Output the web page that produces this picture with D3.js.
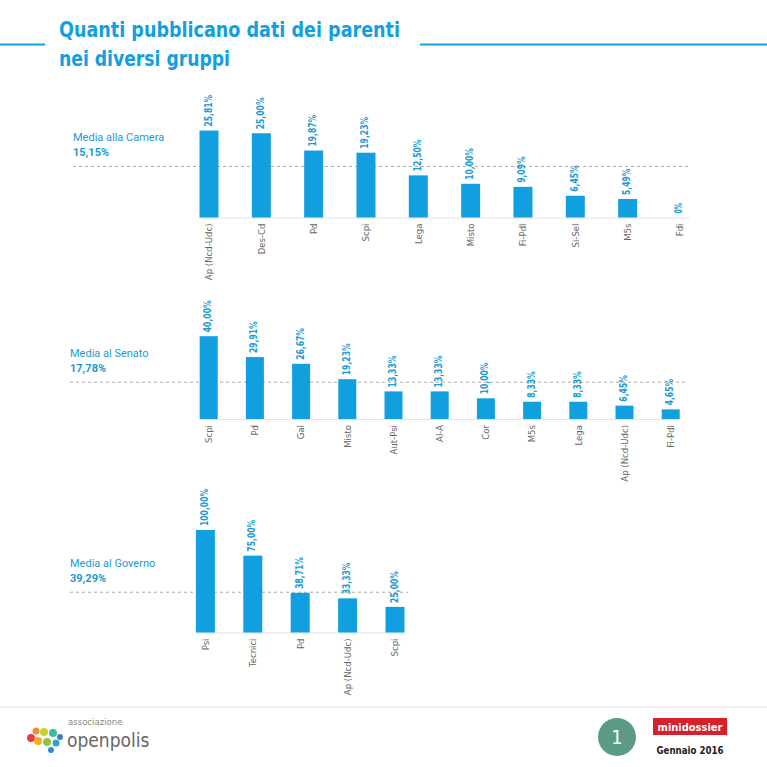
<!DOCTYPE html>
<html><head><meta charset="utf-8">
<style>
body { margin: 0; background: #fff; }
svg text { font-family: "Liberation Sans Narrow", "DejaVu Sans Condensed", sans-serif; }
.cat { fill: #666; font-size: 9.5px; }
.val { fill: #1a9ad6; font-size: 10px; font-weight: bold; }
.mean { fill: #1a9ad6; font-size: 11px; font-family: Roboto, sans-serif; }
</style>
</head>
<body>
<svg width="767" height="767"></svg>
<script src="https://cdn.jsdelivr.net/npm/d3@7"></script>
<script>

var cameraGroups = ["Ap (Ncd-Udc)", "Des-Cd", "Pd", "Scpi", "Lega", "Misto", "Fi-Pdl", "Si-Sel", "M5s", "Fdi"];
var cameraValues = [25.81, 25.00, 19.87, 19.23, 12.50, 10.00, 9.09, 6.45, 5.49, 0];
var cameraMean = 15.15;

var senatoGroups = ["Scpi", "Pd", "Gal", "Misto", "Aut-Psi", "Al-A", "Cor", "M5s", "Lega", "Ap (Ncd-Udc)", "Fi-Pdl"];
var senatoValues = [40.00, 29.91, 26.67, 19.23, 13.33, 13.33, 10.00, 8.33, 8.33, 6.45, 4.65];
var senatoMean = 17.78;

var governoGroups = ["Psi", "Tecnici", "Pd", "Ap (Ncd-Udc)", "Scpi"];
var governoValues = [100.00, 75.00, 38.71, 33.33, 25.00];
var governoMean = 39.29;

var blue = "#129fdf";
var svg = d3.select("svg");

function fmt(v) {
  return v === 0 ? "0%" : v.toFixed(2).replace(".", ",") + "%";
}

// title
svg.append("line").attr("x1", 0).attr("x2", 45).attr("y1", 44.5).attr("y2", 44.5)
    .attr("stroke", blue).attr("stroke-width", 2);
svg.append("line").attr("x1", 420).attr("x2", 767).attr("y1", 44.5).attr("y2", 44.5)
    .attr("stroke", blue).attr("stroke-width", 2);
svg.append("text").attr("x", 59).attr("y", 37)
    .attr("fill", blue).attr("font-size", 22).attr("font-weight", "bold")
    .attr("textLength", 341).attr("lengthAdjust", "spacingAndGlyphs")
    .text("Quanti pubblicano dati dei parenti");
svg.append("text").attr("x", 59).attr("y", 66)
    .attr("fill", blue).attr("font-size", 22).attr("font-weight", "bold")
    .attr("textLength", 171).attr("lengthAdjust", "spacingAndGlyphs")
    .text("nei diversi gruppi");

function drawPanel(groups, values, mean, label, o) {
  var g = svg.append("g");
  var n = groups.length;

  var x = d3.scaleBand()
      .domain(groups.map(function(d, i) { return i; }))
      .range([o.firstCenter - o.step / 2, o.firstCenter - o.step / 2 + n * o.step])
      .paddingInner(1 - o.barW / o.step)
      .paddingOuter((1 - o.barW / o.step) / 2);

  var y = d3.scaleLinear()
      .domain([0, o.yMax])
      .range([o.base, o.base - o.yMax * o.k]);

  var cx = function(i) { return x(i) + x.bandwidth() / 2; };

  // mean line
  g.append("line")
      .attr("x1", o.labelX).attr("x2", o.dashEnd)
      .attr("y1", y(mean)).attr("y2", y(mean))
      .attr("stroke", "#aaa").attr("stroke-dasharray", "3,3");

  g.append("text").attr("class", "mean")
      .attr("x", o.labelX).attr("y", o.meanY)
      .text(label);
  g.append("text").attr("class", "mean")
      .attr("x", o.labelX).attr("y", o.meanY + 15)
      .attr("font-weight", "bold")
      .text(fmt(mean));

  // baseline
  g.append("line")
      .attr("x1", x(0)).attr("x2", x(n - 1) + x.bandwidth())
      .attr("y1", o.base + 0.5).attr("y2", o.base + 0.5)
      .attr("stroke", "#e2e2e2");

  g.selectAll("rect.bar")
    .data(values)
    .enter().append("rect")
      .attr("class", "bar")
      .attr("x", function(d, i) { return x(i); })
      .attr("y", function(d) { return y(d); })
      .attr("width", x.bandwidth())
      .attr("height", function(d) { return o.base - y(d); })
      .attr("fill", blue);

  g.selectAll("text.val")
    .data(values)
    .enter().append("text")
      .attr("class", "val")
      .attr("transform", function(d, i) { return "translate(" + (cx(i) - 1) + "," + (y(d) - 4) + ") rotate(-90)"; })
      .attr("dy", "0.35em")
      .attr("textLength", function(d) { return fmt(d).length * 5.3; })
      .attr("lengthAdjust", "spacingAndGlyphs")
      .text(fmt);

  g.selectAll("text.cat")
    .data(groups)
    .enter().append("text")
      .attr("class", "cat")
      .attr("transform", function(d, i) { return "translate(" + cx(i) + "," + (o.base + 6) + ") rotate(-90)"; })
      .attr("dy", "0.35em")
      .attr("text-anchor", "end")
      .text(function(d) { return d; });
}

drawPanel(cameraGroups, cameraValues, cameraMean, "Media alla Camera",
  { base: 217.5, k: 3.37, yMax: 30, firstCenter: 209, step: 52.33, barW: 19,
    labelX: 73, meanY: 141, dashEnd: 690 });

drawPanel(senatoGroups, senatoValues, senatoMean, "Media al Senato",
  { base: 419, k: 2.07, yMax: 40, firstCenter: 208.7, step: 46.2, barW: 18,
    labelX: 70, meanY: 356.5, dashEnd: 687 });

drawPanel(governoGroups, governoValues, governoMean, "Media al Governo",
  { base: 632.5, k: 1.025, yMax: 100, firstCenter: 205.4, step: 47.4, barW: 19,
    labelX: 70, meanY: 566.5, dashEnd: 408 });

// footer
svg.append("line").attr("x1", 0).attr("x2", 767).attr("y1", 707).attr("y2", 707)
    .attr("stroke", "#ddd");

var blobs = [
  [31, 738, 4, "#e8413c"], [36, 731, 3.5, "#f28c28"], [38, 741, 4, "#f5b021"],
  [44, 732, 4, "#c9cf2c"], [47, 742, 4, "#8cc63f"], [53, 733, 4, "#3fb8a0"],
  [56, 743, 3.5, "#27a9c7"], [51, 750, 3, "#2d8fd0"], [60, 737, 3, "#3b7fc4"]
];
svg.append("g").selectAll("circle").data(blobs).enter().append("circle")
    .attr("cx", function(d) { return d[0]; }).attr("cy", function(d) { return d[1]; })
    .attr("r", function(d) { return d[2]; }).attr("fill", function(d) { return d[3]; });

svg.append("text").attr("x", 68).attr("y", 725)
    .attr("fill", "#888").attr("font-size", 9.5).attr("font-family", "Roboto, sans-serif")
    .text("associazione");
svg.append("text").attr("x", 67).attr("y", 747)
    .attr("fill", "#666").attr("font-size", 19).attr("font-family", "Roboto, sans-serif")
    .text("openpolis");

svg.append("circle").attr("cx", 617).attr("cy", 737).attr("r", 19)
    .attr("fill", "#5a9a87");
svg.append("text").attr("x", 617).attr("y", 744)
    .attr("fill", "#fff").attr("font-size", 20)
    .attr("text-anchor", "middle").text("1");

svg.append("rect").attr("x", 653).attr("y", 718).attr("width", 74).attr("height", 17)
    .attr("fill", "#d7202b");
svg.append("text").attr("x", 690).attr("y", 730.5)
    .attr("fill", "#fff").attr("font-size", 11).attr("font-weight", "bold")
    .attr("text-anchor", "middle").text("minidossier");
svg.append("text").attr("x", 690).attr("y", 754)
    .attr("fill", "#222").attr("font-size", 11).attr("font-weight", "bold")
    .attr("text-anchor", "middle")
    .attr("textLength", 67).attr("lengthAdjust", "spacingAndGlyphs")
    .text("Gennaio 2016");

</script>
</body></html>
